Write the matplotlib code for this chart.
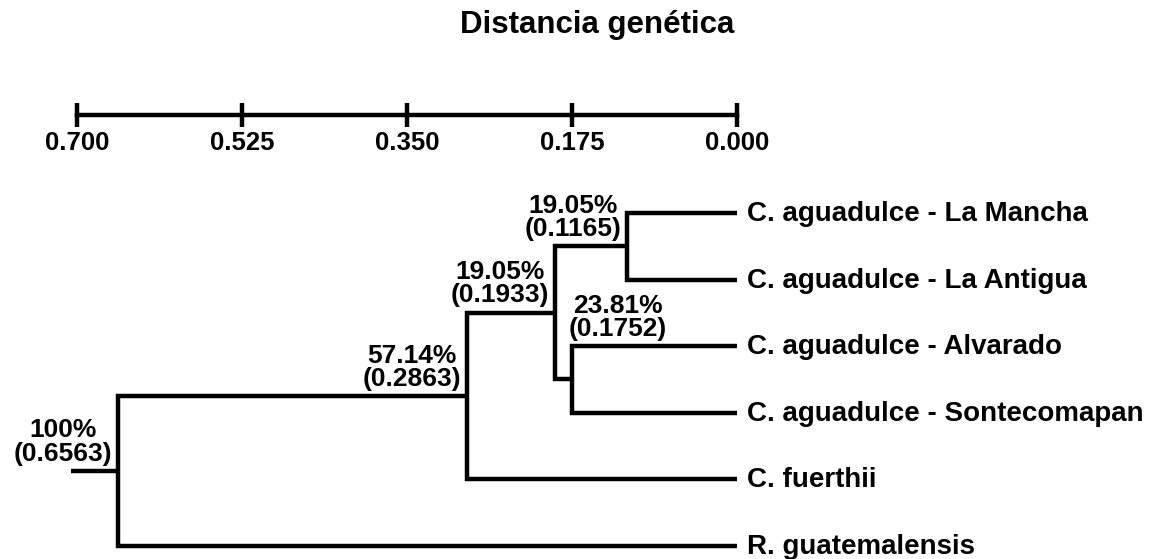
import matplotlib
matplotlib.use("Agg")
import matplotlib.pyplot as plt

plt.rcParams['font.family'] = ['Liberation Sans', 'DejaVu Sans']
plt.rcParams['font.weight'] = 'bold'

# hojas (de arriba hacia abajo)
leaves = ['C. aguadulce - La Mancha', 'C. aguadulce - La Antigua',
          'C. aguadulce - Alvarado', 'C. aguadulce - Sontecomapan',
          'C. fuerthii', 'R. guatemalensis']

# uniones: ids 0-5 son hojas, 6.. son los nodos internos en orden
merge_a = [0, 2, 6, 8, 9]
merge_b = [1, 3, 7, 4, 5]
merge_dist = [0.1165, 0.1752, 0.1933, 0.2863, 0.6563]
merge_pct = ['19.05%', '23.81%', '19.05%', '57.14%', '100%']

scale_ticks = [0.700, 0.525, 0.350, 0.175, 0.000]

W, H = 1161, 559
fig = plt.figure(figsize=(W / 100, H / 100), dpi=100)

# ejes principales sobre toda la figura
ax = fig.add_axes([0, 0, 1, 1])
ax.set_xlim(0.7 + 77 / 942.86, -(W - 737) / 942.86)
ax.set_ylim((H - 213) / 66.6, -213 / 66.6)
ax.axis('off')

lw = 3.2
node_x = [0.0] * len(leaves)
node_y = list(range(len(leaves)))

for a, b, d in zip(merge_a, merge_b, merge_dist):
    xs = [node_x[a], d, d, node_x[b]]
    ys = [node_y[a], node_y[a], node_y[b], node_y[b]]
    ax.plot(xs, ys, color='black', lw=lw, solid_joinstyle='miter',
            solid_capstyle='butt')
    node_x.append(d)
    node_y.append((node_y[a] + node_y[b]) / 2)

# raíz
root = len(node_x) - 1
ax.plot([node_x[root], node_x[root] + 0.05], [node_y[root]] * 2,
        color='black', lw=lw, solid_capstyle='butt')

# etiquetas de los nodos
for i, (a, d, pct) in enumerate(zip(merge_a, merge_dist, merge_pct)):
    n = len(leaves) + i
    txt = f'{pct}\n({d:.4f})'
    if pct == '23.81%':
        ax.annotate(txt, (d, node_y[a]), xytext=(-2, 4),
                    textcoords='offset points', ha='left', va='bottom',
                    multialignment='center', fontsize=19, linespacing=0.95)
    else:
        ax.annotate(txt, (d, node_y[n]), xytext=(-4, 4),
                    textcoords='offset points', ha='right', va='bottom',
                    multialignment='center', fontsize=19, linespacing=0.95)

# nombres de las hojas
for i, name in enumerate(leaves):
    ax.annotate(name, (0.0, i), xytext=(7, 1.5), textcoords='offset points',
                ha='left', va='center_baseline', fontsize=20)

# barra de escala
sax = fig.add_axes([77 / W, 1 - 115 / H, 660 / W, 0.0001])
sax.set_xlim(0.7, 0.0)
sax.set_yticks([])
for s in ['top', 'left', 'right']:
    sax.spines[s].set_visible(False)
sax.spines['bottom'].set_linewidth(lw)
sax.set_xticks(scale_ticks)
sax.set_xticklabels([f'{t:.3f}' for t in scale_ticks])
sax.tick_params(axis='x', direction='inout', length=17, width=lw,
                labelsize=18.5, pad=3)
sax.patch.set_visible(False)

fig.text(597 / W, 1 - 25 / H, 'Distancia genética', ha='center',
         va='center', fontsize=22.5, fontweight='bold')

fig.savefig('out.png', dpi=100)
